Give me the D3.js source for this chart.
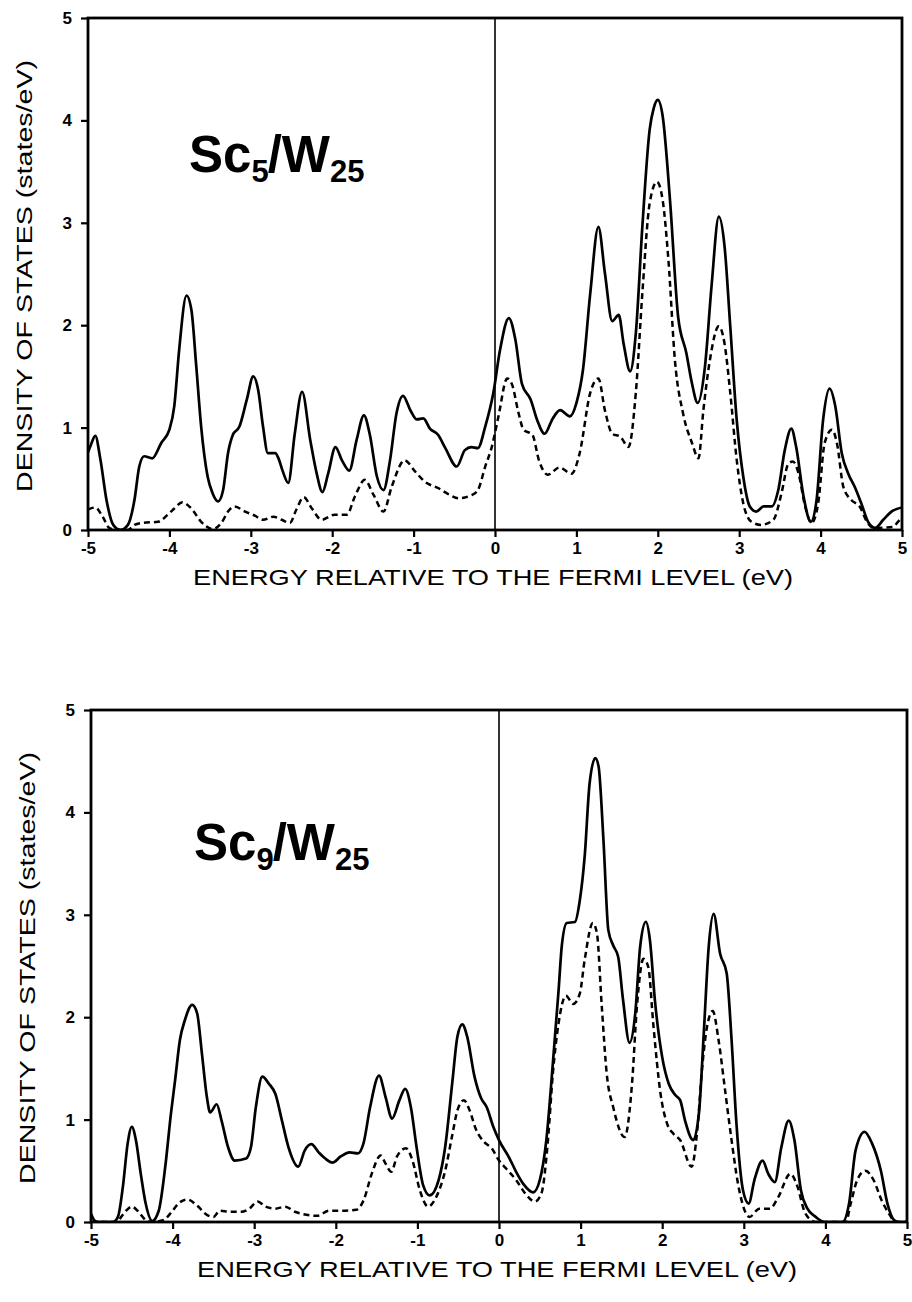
<!DOCTYPE html>
<html>
  <head>
    <meta charset="utf-8" />
    <style>
      body,
      html {
        margin: 0;
        padding: 0;
        background: #fff;
        overflow: hidden;
      }
      svg {
        display: block;
      }
      text {
        font-family: "Liberation Sans", Arial, Helvetica, sans-serif;
        fill: #000;
      }
    </style>
  </head>
  <body>
    <script src="https://cdn.jsdelivr.net/npm/d3@7/dist/d3.min.js"></script>
    <script>
      // tick values shared by both panels
      const xTicks = [-5, -4, -3, -2, -1, 0, 1, 2, 3, 4, 5];
      const yTicks = [0, 1, 2, 3, 4, 5];

      // Sc5/W25 : total DOS (solid) and Sc part (dashed), [energy eV, states/eV]
      const sc5Total = [
        [-5.0, 0.76], [-4.97, 0.82], [-4.91, 0.92], [-4.85, 0.7], [-4.77, 0.28],
        [-4.69, 0.05], [-4.6, 0.0], [-4.51, 0.05], [-4.43, 0.29], [-4.37, 0.62],
        [-4.31, 0.72], [-4.21, 0.7], [-4.1, 0.85], [-4.0, 0.98], [-3.94, 1.21],
        [-3.88, 1.76], [-3.79, 2.29], [-3.73, 2.15], [-3.67, 1.6], [-3.61, 1.01],
        [-3.53, 0.52], [-3.47, 0.36], [-3.4, 0.28], [-3.34, 0.39], [-3.28, 0.75],
        [-3.22, 0.93], [-3.14, 1.01], [-3.05, 1.27], [-2.97, 1.5], [-2.91, 1.37],
        [-2.85, 1.01], [-2.79, 0.75], [-2.7, 0.75], [-2.66, 0.7], [-2.61, 0.58],
        [-2.54, 0.46], [-2.46, 0.94], [-2.37, 1.35], [-2.27, 0.88], [-2.19, 0.55],
        [-2.12, 0.37], [-2.05, 0.55], [-1.96, 0.81], [-1.88, 0.68], [-1.79, 0.58],
        [-1.7, 0.88], [-1.61, 1.12], [-1.54, 0.94], [-1.45, 0.52], [-1.37, 0.39],
        [-1.29, 0.68], [-1.21, 1.14], [-1.13, 1.31], [-1.04, 1.17], [-0.96, 1.08],
        [-0.88, 1.09], [-0.8, 0.99], [-0.7, 0.93], [-0.61, 0.8], [-0.47, 0.62],
        [-0.37, 0.78], [-0.29, 0.81], [-0.21, 0.8], [-0.12, 1.01], [-0.02, 1.34],
        [0.06, 1.75], [0.17, 2.07], [0.25, 1.86], [0.33, 1.43], [0.44, 1.27],
        [0.52, 1.07], [0.61, 0.94], [0.71, 1.09], [0.8, 1.17], [0.92, 1.11],
        [1.0, 1.24], [1.08, 1.56], [1.17, 2.31], [1.27, 2.96], [1.35, 2.51],
        [1.44, 2.04], [1.52, 2.1], [1.58, 1.82], [1.66, 1.55], [1.73, 1.92],
        [1.81, 2.96], [1.9, 3.91], [1.95, 4.12], [2.0, 4.2], [2.06, 4.04],
        [2.15, 3.22], [2.25, 2.08], [2.35, 1.73], [2.42, 1.43], [2.49, 1.24],
        [2.58, 1.6], [2.66, 2.38], [2.75, 3.06], [2.82, 2.77], [2.89, 1.99],
        [2.97, 1.07], [3.05, 0.52], [3.13, 0.23], [3.21, 0.18], [3.3, 0.23],
        [3.4, 0.23], [3.48, 0.39], [3.56, 0.78], [3.64, 0.99], [3.7, 0.81],
        [3.79, 0.33], [3.88, 0.08], [3.95, 0.29], [4.03, 1.07], [4.11, 1.38],
        [4.18, 1.21], [4.26, 0.75], [4.34, 0.55], [4.42, 0.42], [4.5, 0.26],
        [4.59, 0.07], [4.67, 0.02], [4.77, 0.1], [4.87, 0.18], [5.0, 0.22]
      ];
      const sc5Partial = [
        [-5.0, 0.2], [-4.91, 0.22], [-4.82, 0.13], [-4.74, 0.02], [-4.65, 0.0],
        [-4.51, 0.0], [-4.43, 0.05], [-4.33, 0.07], [-4.14, 0.08], [-4.02, 0.15],
        [-3.94, 0.21], [-3.84, 0.27], [-3.73, 0.21], [-3.61, 0.08], [-3.47, 0.01],
        [-3.36, 0.07], [-3.28, 0.18], [-3.2, 0.23], [-3.07, 0.18], [-2.95, 0.14],
        [-2.85, 0.1], [-2.72, 0.13], [-2.62, 0.1], [-2.52, 0.07], [-2.44, 0.2],
        [-2.35, 0.32], [-2.25, 0.21], [-2.13, 0.1], [-1.97, 0.15], [-1.82, 0.15],
        [-1.72, 0.33], [-1.6, 0.49], [-1.49, 0.34], [-1.37, 0.18], [-1.27, 0.42],
        [-1.11, 0.68], [-0.98, 0.57], [-0.86, 0.47], [-0.7, 0.41], [-0.55, 0.34],
        [-0.45, 0.31], [-0.29, 0.34], [-0.21, 0.39], [-0.12, 0.62], [-0.04, 0.81],
        [0.04, 1.1], [0.15, 1.48], [0.21, 1.42], [0.29, 1.14], [0.35, 0.98],
        [0.46, 0.93], [0.54, 0.68], [0.65, 0.54], [0.79, 0.61], [0.94, 0.55],
        [1.04, 0.75], [1.17, 1.34], [1.27, 1.48], [1.35, 1.17], [1.44, 0.94],
        [1.54, 0.91], [1.64, 0.81], [1.73, 1.34], [1.81, 2.31], [1.9, 3.19],
        [1.99, 3.4], [2.06, 3.22], [2.13, 2.64], [2.21, 1.66], [2.31, 1.14],
        [2.42, 0.85], [2.5, 0.7], [2.56, 1.17], [2.64, 1.66], [2.75, 1.99],
        [2.82, 1.82], [2.89, 1.34], [2.97, 0.68], [3.05, 0.26], [3.15, 0.08],
        [3.27, 0.05], [3.42, 0.1], [3.52, 0.36], [3.6, 0.64], [3.66, 0.67],
        [3.73, 0.55], [3.81, 0.23], [3.89, 0.07], [3.97, 0.26], [4.05, 0.85],
        [4.14, 0.98], [4.2, 0.85], [4.28, 0.42], [4.38, 0.29], [4.48, 0.23],
        [4.57, 0.08], [4.65, 0.02], [4.89, 0.03], [4.95, 0.08], [5.0, 0.12]
      ];

      // Sc9/W25
      const sc9Total = [
        [-5.0, 0.08], [-4.95, 0.01], [-4.9, 0.0], [-4.73, 0.0], [-4.67, 0.05],
        [-4.61, 0.34], [-4.55, 0.77], [-4.5, 0.93], [-4.45, 0.8], [-4.39, 0.47],
        [-4.33, 0.18], [-4.25, 0.01], [-4.17, 0.11], [-4.09, 0.54], [-4.02, 1.06],
        [-3.97, 1.38], [-3.91, 1.78], [-3.85, 1.97], [-3.76, 2.12], [-3.7, 2.04],
        [-3.64, 1.64], [-3.58, 1.22], [-3.54, 1.07], [-3.46, 1.15], [-3.4, 0.99],
        [-3.32, 0.73], [-3.24, 0.6], [-3.1, 0.62], [-3.04, 0.73], [-2.98, 1.12],
        [-2.9, 1.42], [-2.82, 1.35], [-2.74, 1.25], [-2.66, 0.99], [-2.58, 0.73],
        [-2.46, 0.54], [-2.38, 0.7], [-2.3, 0.76], [-2.21, 0.68], [-2.13, 0.62],
        [-2.04, 0.58], [-1.94, 0.64], [-1.83, 0.68], [-1.73, 0.67], [-1.66, 0.77],
        [-1.58, 1.12], [-1.47, 1.43], [-1.39, 1.22], [-1.31, 1.01], [-1.22, 1.19],
        [-1.15, 1.3], [-1.08, 1.12], [-1.01, 0.73], [-0.93, 0.36], [-0.85, 0.26],
        [-0.74, 0.41], [-0.66, 0.73], [-0.57, 1.38], [-0.51, 1.81], [-0.45, 1.93],
        [-0.39, 1.81], [-0.3, 1.42], [-0.22, 1.21], [-0.15, 1.12], [-0.07, 0.93],
        [0.0, 0.8], [0.13, 0.62], [0.21, 0.49], [0.3, 0.37], [0.42, 0.29],
        [0.5, 0.41], [0.58, 0.8], [0.66, 1.55], [0.73, 2.26], [0.77, 2.7],
        [0.83, 2.92], [0.93, 2.93], [0.99, 3.14], [1.05, 3.57], [1.11, 4.28],
        [1.18, 4.53], [1.22, 4.45], [1.28, 3.73], [1.34, 2.85], [1.4, 2.7],
        [1.46, 2.59], [1.52, 2.17], [1.6, 1.75], [1.67, 2.04], [1.73, 2.69],
        [1.8, 2.93], [1.85, 2.75], [1.91, 2.17], [2.0, 1.61], [2.08, 1.35],
        [2.16, 1.24], [2.22, 1.19], [2.28, 0.99], [2.38, 0.8], [2.45, 1.06],
        [2.51, 1.85], [2.57, 2.69], [2.63, 3.01], [2.71, 2.62], [2.79, 2.43],
        [2.85, 1.78], [2.91, 0.96], [2.99, 0.31], [3.06, 0.18], [3.13, 0.41],
        [3.23, 0.6], [3.3, 0.47], [3.38, 0.39], [3.46, 0.73], [3.55, 0.99],
        [3.62, 0.8], [3.7, 0.31], [3.78, 0.13], [3.88, 0.05], [3.99, 0.0],
        [4.21, 0.0], [4.29, 0.18], [4.37, 0.7], [4.48, 0.88], [4.57, 0.77],
        [4.68, 0.5], [4.76, 0.18], [4.84, 0.02], [4.9, 0.0], [5.0, 0.0]
      ];
      const sc9Partial = [
        [-5.0, 0.0], [-4.68, 0.0], [-4.63, 0.05], [-4.57, 0.11], [-4.5, 0.15],
        [-4.43, 0.11], [-4.33, 0.02], [-4.25, 0.0], [-4.11, 0.02], [-4.01, 0.1],
        [-3.93, 0.18], [-3.82, 0.22], [-3.7, 0.16], [-3.58, 0.07], [-3.5, 0.05],
        [-3.42, 0.11], [-3.3, 0.1], [-3.16, 0.1], [-3.06, 0.13], [-2.96, 0.2],
        [-2.86, 0.15], [-2.74, 0.13], [-2.62, 0.15], [-2.5, 0.1], [-2.42, 0.08],
        [-2.23, 0.06], [-2.08, 0.11], [-1.92, 0.11], [-1.75, 0.12], [-1.66, 0.21],
        [-1.56, 0.47], [-1.45, 0.65], [-1.39, 0.57], [-1.32, 0.49], [-1.25, 0.64],
        [-1.14, 0.72], [-1.06, 0.6], [-0.97, 0.31], [-0.87, 0.15], [-0.76, 0.26],
        [-0.66, 0.5], [-0.57, 0.86], [-0.51, 1.09], [-0.43, 1.19], [-0.36, 1.09],
        [-0.28, 0.9], [-0.18, 0.78], [-0.09, 0.72], [0.0, 0.6], [0.09, 0.52],
        [0.21, 0.41], [0.32, 0.28], [0.44, 0.2], [0.52, 0.28], [0.6, 0.8],
        [0.66, 1.45], [0.73, 1.94], [0.82, 2.21], [0.91, 2.13], [0.99, 2.23],
        [1.05, 2.56], [1.15, 2.92], [1.2, 2.82], [1.26, 2.1], [1.32, 1.45],
        [1.4, 1.12], [1.54, 0.83], [1.63, 1.35], [1.69, 2.1], [1.77, 2.57],
        [1.83, 2.49], [1.89, 1.94], [1.98, 1.25], [2.06, 0.96], [2.14, 0.86],
        [2.22, 0.8], [2.36, 0.54], [2.43, 0.9], [2.49, 1.51], [2.55, 1.91],
        [2.62, 2.06], [2.69, 1.78], [2.77, 1.29], [2.85, 0.8], [2.93, 0.37],
        [3.07, 0.05], [3.19, 0.13], [3.32, 0.13], [3.42, 0.24], [3.57, 0.47],
        [3.66, 0.34], [3.74, 0.11], [3.82, 0.02], [3.88, 0.0], [4.25, 0.0],
        [4.31, 0.18], [4.39, 0.41], [4.49, 0.5], [4.59, 0.41], [4.69, 0.21],
        [4.78, 0.08], [4.86, 0.0], [5.0, 0.0]
      ];

      const width = 912;
      const height = 1302;

      const panels = [
        {
          id: "sc5",
          sub: "5",
          total: sc5Total,
          partial: sc5Partial,
          left: 88, right: 902, top: 18, bottom: 530,
          titleX: 189, titleY: 172
        },
        {
          id: "sc9",
          sub: "9",
          total: sc9Total,
          partial: sc9Partial,
          left: 91, right: 907, top: 710, bottom: 1222,
          titleX: 194, titleY: 860
        }
      ];

      const svg = d3
        .select("body")
        .append("svg")
        .attr("width", width)
        .attr("height", height)
        .attr("viewBox", `0 0 ${width} ${height}`);

      panels.forEach(function (p) {
        const x = d3.scaleLinear().domain([-5, 5]).range([p.left, p.right]);
        const y = d3.scaleLinear().domain([0, 5]).range([p.bottom, p.top]);

        const g = svg.append("g");

        svg
          .append("clipPath")
          .attr("id", "clip-" + p.id)
          .append("rect")
          .attr("x", p.left)
          .attr("y", p.top)
          .attr("width", p.right - p.left)
          .attr("height", p.bottom - p.top);

        // x axis, ticks pointing down
        const xAxis = g
          .append("g")
          .attr("transform", `translate(0,${p.bottom})`)
          .call(
            d3
              .axisBottom(x)
              .tickValues(xTicks)
              .tickSize(7)
              .tickPadding(5)
              .tickFormat((d) => String(d))
          );
        xAxis.select(".domain").remove();
        xAxis.selectAll("line").attr("stroke", "#000").attr("stroke-width", 2.2);
        xAxis
          .selectAll("text")
          .attr("font-size", 17)
          .attr("font-weight", "bold")
          .style("font-family", '"Liberation Sans", Arial, sans-serif');

        // y axis, ticks pointing left
        const yAxis = g
          .append("g")
          .attr("transform", `translate(${p.left},0)`)
          .call(
            d3
              .axisLeft(y)
              .tickValues(yTicks)
              .tickSize(7)
              .tickPadding(9)
              .tickFormat((d) => String(d))
          );
        yAxis.select(".domain").remove();
        yAxis.selectAll("line").attr("stroke", "#000").attr("stroke-width", 2.2);
        yAxis
          .selectAll("text")
          .attr("font-size", 17)
          .attr("font-weight", "bold")
          .style("font-family", '"Liberation Sans", Arial, sans-serif');

        // Fermi level
        g.append("line")
          .attr("x1", x(0))
          .attr("x2", x(0))
          .attr("y1", p.top)
          .attr("y2", p.bottom)
          .attr("stroke", "#000")
          .attr("stroke-width", 1.6);

        const line = d3
          .line()
          .x((d) => x(d[0]))
          .y((d) => y(d[1]))
          .curve(d3.curveMonotoneX);

        g.append("path")
          .datum(p.partial)
          .attr("clip-path", `url(#clip-${p.id})`)
          .attr("d", line)
          .attr("fill", "none")
          .attr("stroke", "#000")
          .attr("stroke-width", 2.5)
          .attr("stroke-dasharray", "6,4");

        g.append("path")
          .datum(p.total)
          .attr("clip-path", `url(#clip-${p.id})`)
          .attr("d", line)
          .attr("fill", "none")
          .attr("stroke", "#000")
          .attr("stroke-width", 2.7)
          .attr("stroke-linejoin", "round");

        // frame
        g.append("rect")
          .attr("x", p.left)
          .attr("y", p.top)
          .attr("width", p.right - p.left)
          .attr("height", p.bottom - p.top)
          .attr("fill", "none")
          .attr("stroke", "#000")
          .attr("stroke-width", 2.8);

        // axis titles
        g.append("text")
          .attr("x", (p.left + p.right) / 2 - 2)
          .attr("y", p.bottom + 55)
          .attr("text-anchor", "middle")
          .attr("font-size", 22)
          .attr("textLength", 600)
          .attr("lengthAdjust", "spacingAndGlyphs")
          .text("ENERGY RELATIVE TO THE FERMI LEVEL (eV)");

        g.append("text")
          .attr(
            "transform",
            `translate(${p.left - 56},${(p.top + p.bottom) / 2 + 2}) rotate(-90)`
          )
          .attr("text-anchor", "middle")
          .attr("font-size", 22)
          .attr("textLength", 432)
          .attr("lengthAdjust", "spacingAndGlyphs")
          .text("DENSITY OF STATES (states/eV)");

        // system label, e.g. Sc5/W25
        const t = g
          .append("text")
          .attr("x", p.titleX)
          .attr("y", p.titleY)
          .attr("font-weight", "bold")
          .attr("font-size", 51);
        t.append("tspan").text("Sc");
        t.append("tspan").attr("font-size", 31).attr("dy", 10).text(p.sub);
        t.append("tspan").attr("dy", -10).attr("dx", -1).text("/W");
        t.append("tspan").attr("font-size", 31).attr("dy", 10).text("25");
      });
    </script>
  </body>
</html>
